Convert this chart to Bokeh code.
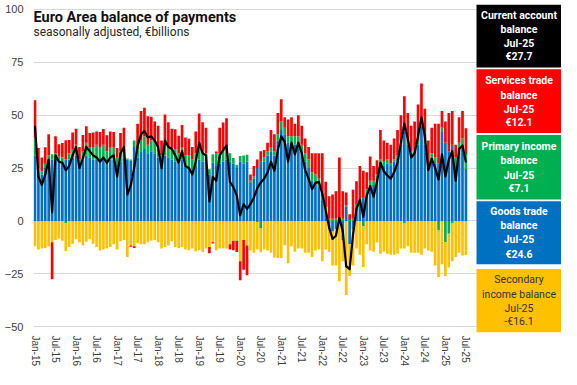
import numpy as np
from bokeh.plotting import figure
from bokeh.models import ColumnDataSource, Label, FixedTicker, Range1d
from bokeh.embed import file_html
from bokeh.resources import INLINE

# ---------------- data (monthly, Jan-15 .. Jul-25, EUR bn) ----------------
tick_labels = ["Jan-15", "Jul-15", "Jan-16", "Jul-16", "Jan-17", "Jul-17", "Jan-18", "Jul-18",
               "Jan-19", "Jul-19", "Jan-20", "Jul-20", "Jan-21", "Jul-21", "Jan-22", "Jul-22",
               "Jan-23", "Jul-23", "Jan-24", "Jul-24", "Jan-25", "Jul-25"]

goods = [31, 23, 22, 25, 28, 29, 29, 28, 27, 29, 29, 30,
         31, 26, 29, 31, 30, 29, 29, 28, 29, 27, 29, 29,
         26, 28, 30, 29, 28.5, 35, 30, 33, 34, 32, 33, 32,
         30, 27, 31, 30, 29, 28, 27, 29, 26, 25, 24, 26,
         29, 28, 28, 22, 27.5, 26, 27, 28, 29, 28, 27, 25,
         28, 27, 28, 18, 20, 25, 28, 28, 31, 33, 31, 38,
         43, 41, 37, 37, 36, 35, 32, 28, 25, 19, 17, 16,
         9.5, 5, -4, -5, -4, 0.5, -9, 7, -11, -4, 6, 8,
         11, 13, 17, 17, 20, 26, 26, 27, 26, 28, 30, 36,
         42, 36, 31, 32, 36, 45, 36, 25, 30, 27, 27, 42,
         37, 33, 36, 26, 34, 35, 24.6]

primary = [8.5, 2, 1.5, 2, 3, 2.5, 3, 2.5, 3, -1.2, 3, 4,
           5, 3, 4, 6, 5, 6, 7, 7, 7, 6, 6, 6,
           4, 5, 4, 0.5, 0.5, 3, 4, 5, 6, 4, 5, 5,
           5, 4, 6, 5, 5, 6, 5, 6, 5, 6, 5, 6,
           6, 5, 4, 2.5, 4, 6, 5, 5, 6, 4, 2.8, 1.6,
           2.7, 4, 3.3, 1, 1, -0.5, -3.3, 2, 2, 2, 2, 3,
           4, 3, 3, 3, 4, 5, 4, 4, 4, 4, 5, 4,
           2, 1.5, 1, 1, 1, 1, 1, 0.5, 0.5, 1, 2, 2,
           -2.5, 2, 2, 2, 2, 3, 2, 2, 1, 1, 1, 2,
           -1, 2, 2, 2, 2, 1, 3, 2, 2, 3, -4.5, 2,
           -10, -6, -1, 4, 3, 4, 7.1]

services = [17.5, 9.5, 6.5, 7.8, 10, -17.5, 8, 5.8, 6.8, 9.2, 6.3, 7.8,
            7.6, 6, 7.6, 7.8, 6.6, 6.8, 6.3, 7, 7.5, 7.5, 7.3, 7,
            4.5, 8.6, 10, 0, -0.6, -0.8, 12, 14, 13.5, 13.5, 11.3, 10,
            10, 7, 13.3, 11.6, 9.6, 9.3, 8.3, 10.3, 8.5, 7.8, 6, 10.3,
            15.8, 13.6, 12, -3, -0.7, 0.8, 12, 13.5, 13.6, -2.5, -4.5, -5.3,
            -9, -14, -14, 3, 5, 4, 5, 3.5, 4, 8, 8, 10,
            10.5, 5, 8, 9, 6, 10, 9, 7, 6, 9, 10, 12,
            20.5, 12, 10.7, 11.5, 13, 28.5, 13, 6, 2.7, 13.7, 10.8, 16,
            12.7, 8, 11.5, 7, 6.7, 14, 10, 8, 9, 10, 12, 12,
            17, 13, 12, 13, 17, 19, 14, 11, 12, 16, 19, 8,
            10, 18, 16, 6, 12, 13, 12.1]

secondary = [-12, -13.5, -13, -12.8, -12, -10, -9, -8.3, -9.3, -13, -12.3, -10.8,
             -8.6, -10, -11.6, -9.8, -8.6, -10.8, -12.3, -14, -13.5, -13, -12.3, -11,
             -13.5, -9.6, -9, -17, -11.6, -12, -10.5, -11, -11, -10, -9.3, -9,
             -10, -13, -12.3, -11.6, -9.6, -12.3, -12.8, -12.3, -13.5, -13.8, -13, -14.3,
             -13.8, -14.6, -13, -12.3, -10, -13.8, -13, -13, -13, -11, -9.3, -9.3,
             -19, -9, -11.6, -14, -15, -13, -11.5, -13.5, -14, -15, -17.3, -17.5,
             -17.5, -11.5, -20, -12, -14.5, -13, -13, -15, -15, -17, -14, -13.5,
             -19, -13.5, -10.7, -16, -17, -28.5, -10, -35, -15, -17, -13, -16,
             -19.2, -11, -14, -14.5, -10.2, -15.5, -14.5, -15.5, -16, -16, -15.5, -13,
             -12, -12, -15, -15, -15, -16, -13, -14, -14.5, -21, -22, -20.5,
             -16, -16, -18, -17, -15, -16.3, -16.1]

current = [45, 21, 17, 22, 29, 4, 31, 28, 27.5, 24, 26, 31,
           35, 25, 29.6, 35, 33, 31, 30, 28, 30, 27.5, 30, 31,
           21, 32, 35, 12.5, 16.8, 25, 35.5, 41, 42.5, 39.5, 40, 38,
           35, 25, 38, 35, 34, 31, 27.5, 33, 26, 25, 22, 28,
           37, 32, 31, 9.2, 20.8, 19, 31, 33.5, 35.6, 18.5, 16, 12,
           2.7, 8, 5.7, 8, 11, 15.5, 18.2, 20, 23, 28, 23.7, 33.5,
           40, 37.5, 28, 37, 31.5, 37, 32, 24, 20, 15, 18, 18.5,
           13, 5, -3, -8.5, -7, 1.5, -5, -21.5, -22.8, -6.3, 5.8, 10,
           2, 12, 16.5, 11.5, 18.5, 27.5, 23.5, 21.5, 20, 23, 27.5, 37,
           46, 39, 30, 32, 40, 49, 40, 24, 29.5, 25, 19.5, 31.5,
           21, 29, 33, 19, 34, 35.7, 27.7]

latest_month = "Jul-25"
legend_titles = [["Current account", "balance"],
                 ["Services trade", "balance"],
                 ["Primary income", "balance"],
                 ["Goods trade", "balance"],
                 ["Secondary", "income balance"]]
legend_values = ["€27.7", "€12.1", "€7.1", "€24.6", "-€16.1"]

# ---------------- layout / styling ----------------
C_GOODS, C_PRIM, C_SERV, C_SEC = "#0070C0", "#00B050", "#FF0000", "#FFC000"
FONT = "Roboto"

W, H = 561, 369
LEFT, TOP, BOTTOM = 33, 4, 34           # borders in px
Y0, Y1 = -52.7, 102.3
PX_PER_MONTH = 3.42
X0 = -1.5 / PX_PER_MONTH
X1 = X0 + (W - LEFT) / PX_PER_MONTH
frame_h = H - TOP - BOTTOM


def px_to_y(py):
    """canvas pixel row -> data y"""
    return Y1 - (py - TOP) * (Y1 - Y0) / frame_h


def px_to_x(px):
    return X0 + (px - LEFT) / PX_PER_MONTH


n = len(goods)
x = np.arange(n)

p = figure(width=W, height=H,
           x_range=Range1d(X0, X1), y_range=Range1d(Y0, Y1),
           output_backend="svg", toolbar_location=None,
           min_border_left=LEFT, min_border_right=0, min_border_top=TOP,
           min_border_bottom=BOTTOM)
p.outline_line_color = None
p.background_fill_color = "white"
p.border_fill_color = "white"

# stacked bars: positives upward, negatives downward (order goods, primary, secondary, services)
pos = np.zeros(n)
neg = np.zeros(n)
for vals, col in [(goods, C_GOODS), (primary, C_PRIM), (secondary, C_SEC), (services, C_SERV)]:
    v = np.array(vals, dtype=float)
    bottom = np.where(v >= 0, pos, neg)
    top = bottom + v
    pos = np.where(v >= 0, top, pos)
    neg = np.where(v < 0, top, neg)
    src = ColumnDataSource(dict(x=x, b=bottom, t=top))
    p.vbar(x="x", bottom="b", top="t", width=0.78, source=src,
           fill_color=col, line_color=None)

p.line(x, current, line_color="black", line_width=2.2, line_join="round")

# axes
p.xaxis.ticker = FixedTicker(ticks=list(range(0, n, 6)))
p.xaxis.major_label_overrides = {i * 6: lab for i, lab in enumerate(tick_labels)}
p.xaxis.major_label_orientation = "vertical"
p.xaxis.major_label_text_font = "Liberation Sans"
p.xaxis.major_label_text_font_size = "10px"
p.xaxis.major_label_text_color = "#404040"
p.xaxis.major_label_standoff = 3
p.xaxis.axis_line_color = None
p.xaxis.major_tick_line_color = None
p.xaxis.minor_tick_line_color = None
p.xaxis.major_tick_out = 0
p.xaxis.major_tick_in = 0

p.yaxis.ticker = FixedTicker(ticks=[-50, -25, 0, 25, 50, 75, 100])
p.yaxis.major_label_text_font = "Liberation Sans"
p.yaxis.major_label_text_font_size = "11px"
p.yaxis.major_label_text_color = "#404040"
p.yaxis.major_label_standoff = 10
p.yaxis.axis_line_color = None
p.yaxis.major_tick_line_color = None
p.yaxis.minor_tick_line_color = None
p.yaxis.major_tick_out = 0
p.yaxis.major_tick_in = 0

p.xgrid.visible = False
p.ygrid.grid_line_color = "#D9D9D9"
p.ygrid.grid_line_width = 1

# title / subtitle
p.add_layout(Label(x=px_to_x(33), y=px_to_y(17), text="Euro Area balance of payments",
                   text_font=FONT, text_font_style="bold", text_font_size="14.5px",
                   text_color="#111111", text_baseline="middle", text_align="left"))
p.add_layout(Label(x=px_to_x(33), y=px_to_y(32), text="seasonally adjusted, €billions",
                   text_font=FONT, text_font_size="12px",
                   text_color="#262626", text_baseline="middle", text_align="left"))

# legend value boxes on the right (pixel rows of the box edges and text lines)
box_l_px, box_r_px = 476, W
box_rows = [(4, 67.5), (69.4, 133.8), (135.7, 200.7), (202.6, 266), (270.8, 335)]
text_rows = [[14.6, 29, 43.4, 56.9],
             [81, 95.4, 109.8, 123.3],
             [147.3, 161.8, 176.2, 189.7],
             [212.8, 227.2, 241.6, 256],
             [282, 296.4, 310.9, 324.3]]
box_colors = ["#000000", C_SERV, C_PRIM, C_GOODS, C_SEC]
p.quad(left=[px_to_x(box_l_px)] * 5, right=[X1] * 5,
       top=[px_to_y(a) for a, b in box_rows], bottom=[px_to_y(b) for a, b in box_rows],
       fill_color=box_colors, line_color=None)

cx = px_to_x((box_l_px + box_r_px) / 2)
for k in range(5):
    texts = legend_titles[k] + [latest_month, legend_values[k]]
    is_sec = (k == 4)
    for t, row in zip(texts, text_rows[k]):
        p.add_layout(Label(x=cx, y=px_to_y(row), text=t, text_align="center",
                           text_baseline="middle",
                           text_font=FONT, text_font_size="10.5px",
                           text_font_style="normal" if is_sec else "bold",
                           text_color="#333333" if is_sec else "white"))

open("out.html", "w").write(file_html(p, INLINE))
